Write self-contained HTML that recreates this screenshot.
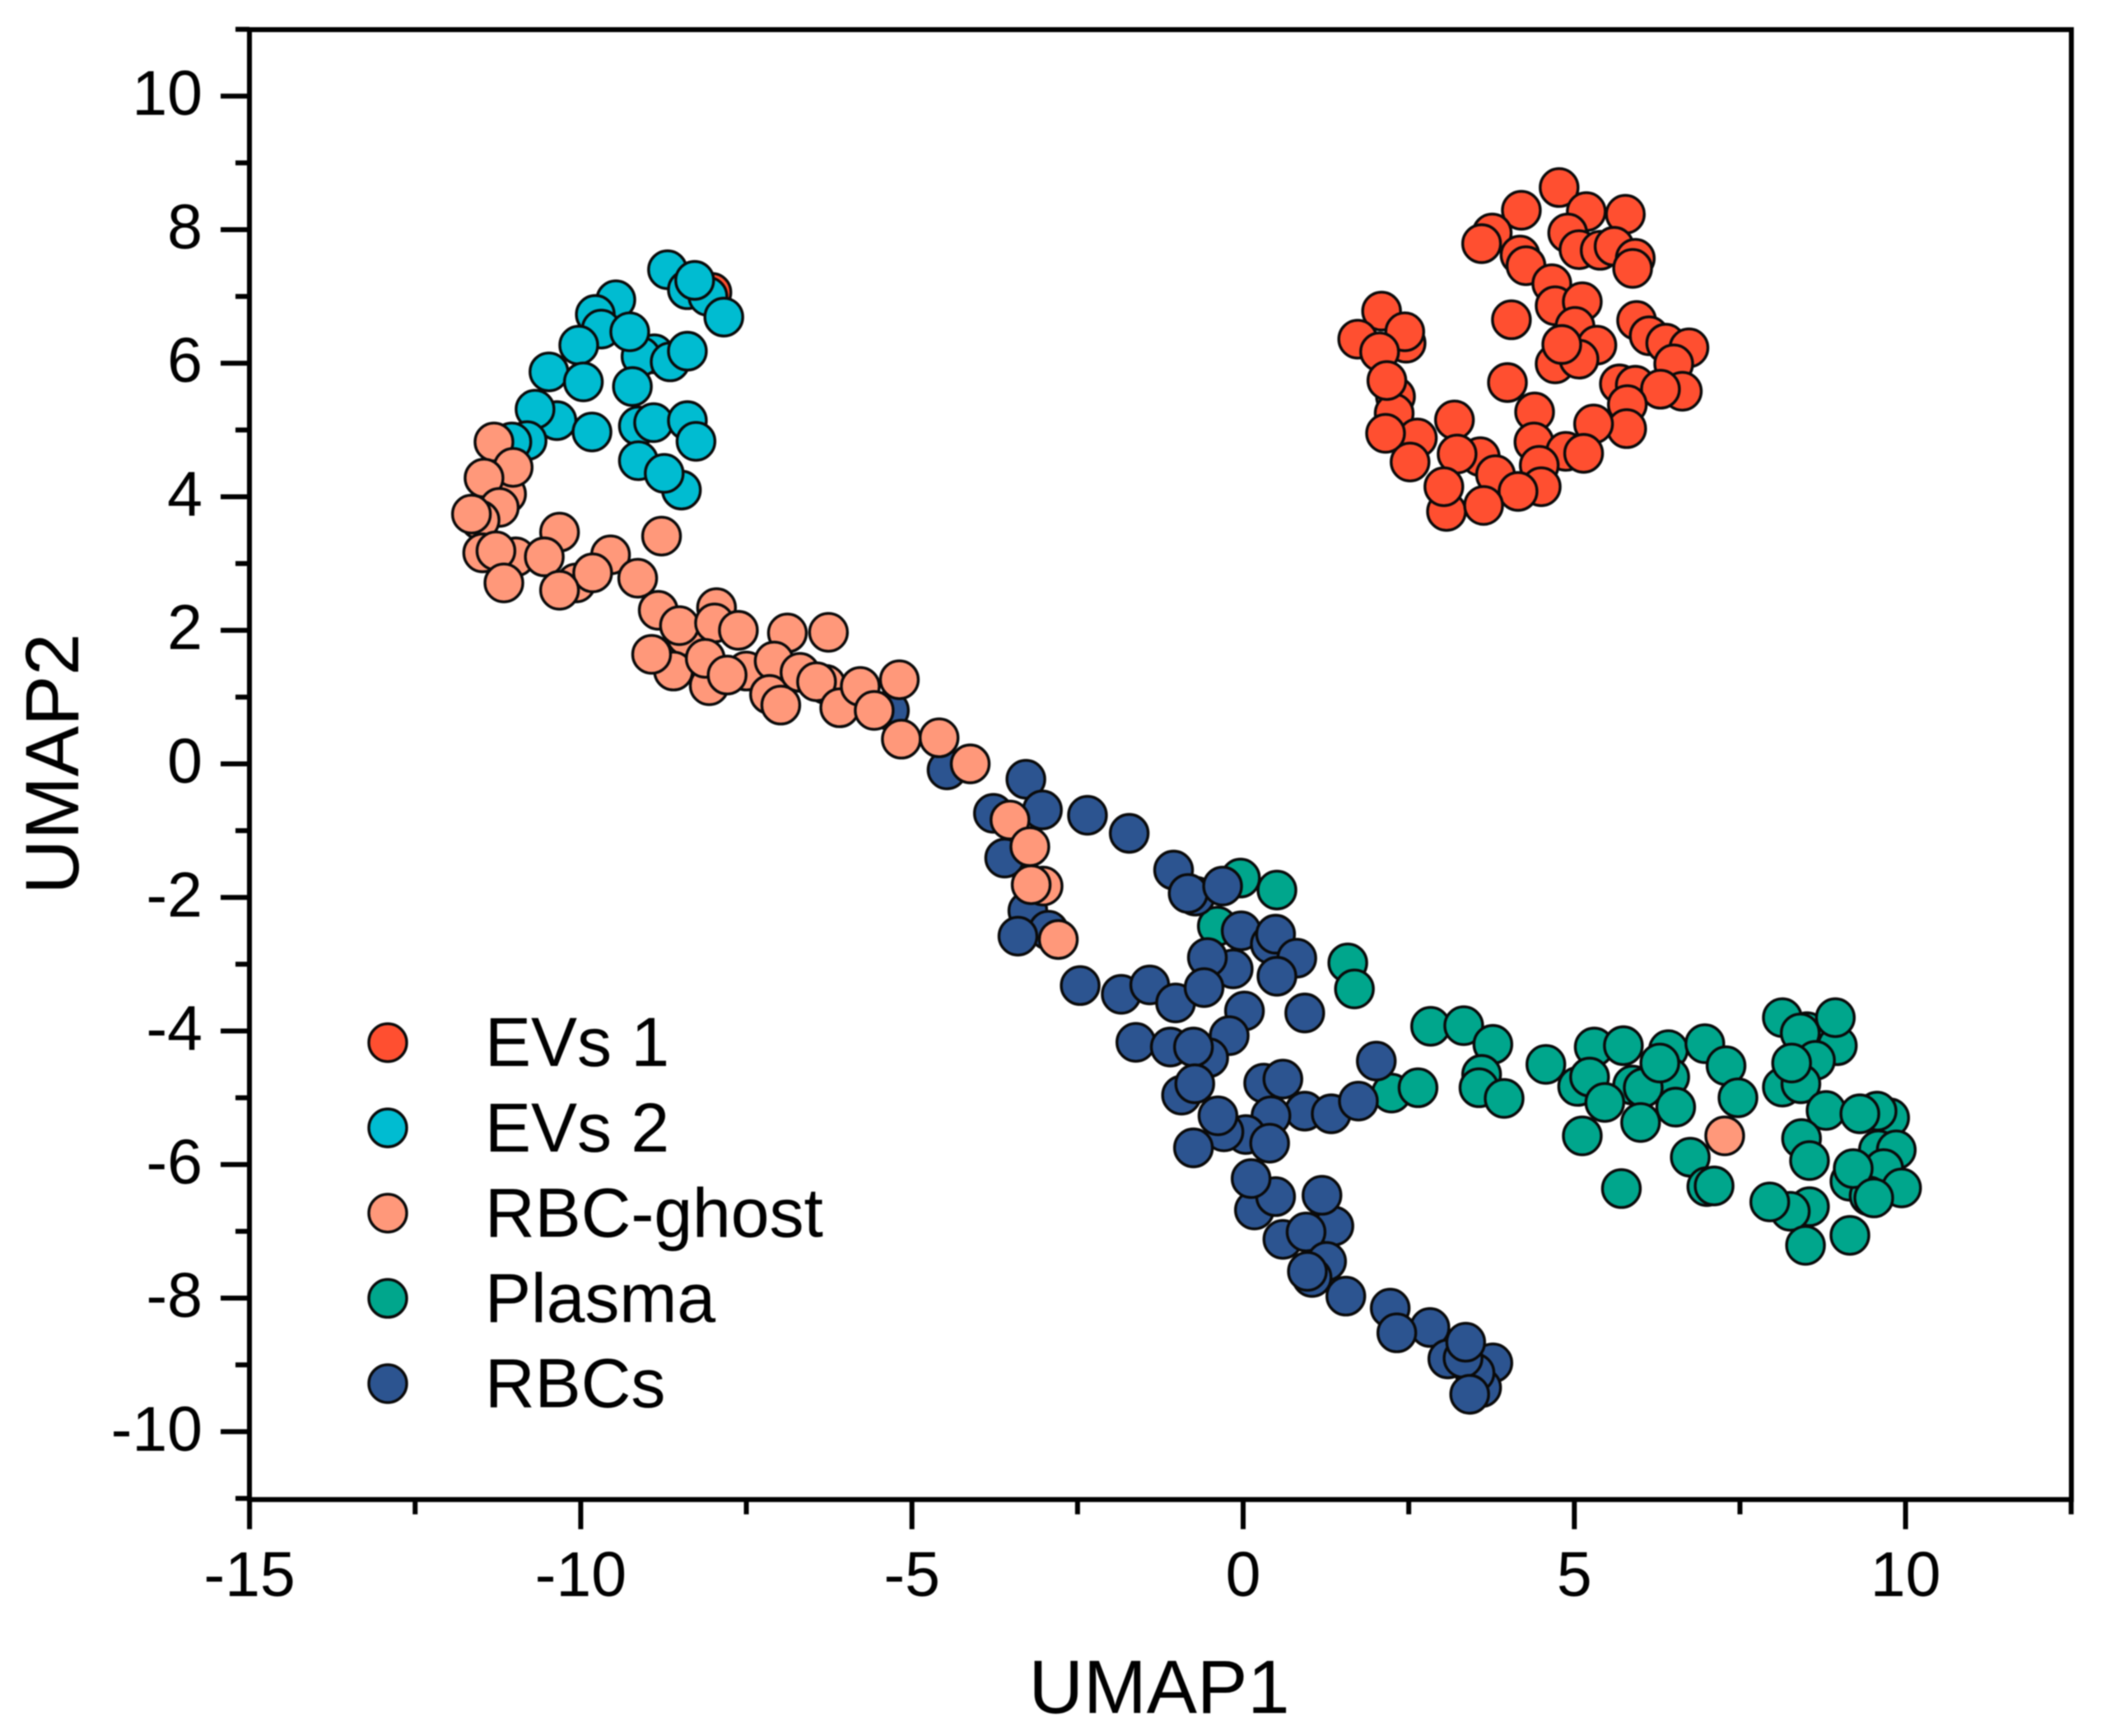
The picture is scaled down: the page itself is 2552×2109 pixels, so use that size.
<!DOCTYPE html>
<html lang="en">
<head>
<meta charset="utf-8">
<title>UMAP scatter plot</title>
<style>
  html, body { margin: 0; padding: 0; background: #fff; }
  #chart { display: block; width: 2552px; height: 2109px; filter: blur(0.7px); }
  text { font-family: "Liberation Sans", Arial, sans-serif; fill: #000; }
</style>
</head>
<body>
<svg id="chart" xmlns="http://www.w3.org/2000/svg" width="2552" height="2109" viewBox="0 0 2552 2109">
  <rect x="0" y="0" width="2552" height="2109" fill="#ffffff"/>
  <g id="points"></g>
  <g id="axes"></g>
  <g id="legend"></g>
  <text x="1408" y="2081" font-size="92" text-anchor="middle">UMAP1</text>
  <text transform="translate(95 928) rotate(-90)" font-size="92" text-anchor="middle">UMAP2</text>
</svg>
<script>
const seriesNames = ["EVs 1", "EVs 2", "RBC-ghost", "Plasma", "RBCs"];
const xTickValues = [-15, -10, -5, 0, 5, 10];
const xMinorValues = [-12.5, -7.5, -2.5, 2.5, 7.5, 12.5];
const yTickValues = [10, 8, 6, 4, 2, 0, -2, -4, -6, -8, -10];
const yMinorValues = [11, 9, 7, 5, 3, 1, -1, -3, -5, -7, -9, -11];

const evs1Points = [[-8.02,7.06],[4.77,8.63],[4.20,8.29],[5.18,8.27],[5.77,8.23],[4.90,7.95],[3.76,7.95],[3.60,7.79],[5.07,7.70],[5.39,7.69],[5.60,7.75],[5.92,7.57],[5.88,7.42],[4.18,7.62],[4.27,7.46],[4.66,7.19],[4.71,6.86],[5.12,6.92],[4.05,6.65],[5.94,6.64],[2.09,6.78],[1.73,6.36],[2.46,6.30],[2.44,6.47],[2.06,6.17],[5.01,6.55],[5.34,6.27],[4.71,5.99],[5.07,6.06],[4.81,6.28],[6.13,6.41],[6.38,6.30],[6.73,6.23],[6.50,5.99],[3.99,5.71],[2.30,5.50],[2.28,5.25],[2.17,5.74],[5.68,5.69],[5.92,5.67],[6.63,5.58],[6.30,5.61],[5.80,5.38],[4.40,5.27],[5.79,5.02],[5.29,5.09],[3.19,5.15],[2.63,4.88],[2.15,4.95],[2.52,4.52],[4.39,4.82],[4.87,4.68],[5.14,4.65],[3.58,4.60],[3.23,4.64],[4.47,4.47],[3.81,4.33],[4.50,4.15],[4.15,4.08],[3.07,3.78],[3.03,4.15],[3.63,3.87]];

const evs2Points = [[-8.69,7.40],[-8.39,7.10],[-8.08,7.00],[-8.28,7.24],[-7.84,6.69],[-9.47,6.95],[-9.78,6.73],[-9.69,6.51],[-10.03,6.27],[-8.89,6.14],[-9.09,6.10],[-9.26,6.47],[-8.65,6.02],[-8.39,6.18],[-10.48,5.87],[-9.96,5.72],[-9.22,5.65],[-10.36,5.14],[-10.69,5.31],[-9.83,4.97],[-9.13,5.06],[-8.90,5.11],[-8.39,5.14],[-8.26,4.83],[-10.81,4.84],[-11.04,4.82],[-9.13,4.54],[-8.48,4.10],[-8.74,4.35]];

const plasmaPoints = [[-0.04,-1.71],[0.51,-1.89],[-0.39,-2.43],[1.58,-2.98],[1.68,-3.37],[2.83,-3.93],[3.33,-3.92],[3.77,-4.20],[3.60,-4.65],[3.56,-4.85],[3.94,-5.01],[2.24,-4.93],[2.64,-4.85],[4.57,-4.50],[5.30,-4.24],[5.74,-4.22],[6.42,-4.28],[6.97,-4.19],[5.05,-4.83],[5.23,-4.69],[6.44,-4.69],[5.88,-4.81],[6.04,-4.85],[6.29,-4.48],[5.46,-5.07],[6.53,-5.14],[6.00,-5.37],[5.12,-5.57],[5.71,-6.36],[7.29,-4.52],[7.47,-5.00],[6.75,-5.89],[7.00,-6.33],[7.11,-6.32],[8.14,-3.80],[8.51,-4.01],[8.97,-4.22],[8.94,-3.80],[8.41,-4.03],[8.64,-4.44],[8.14,-4.84],[8.42,-4.79],[8.28,-4.48],[8.80,-5.19],[9.76,-5.30],[9.57,-5.20],[9.31,-5.24],[8.43,-5.61],[8.55,-5.94],[9.59,-5.78],[9.86,-5.78],[9.67,-6.06],[9.94,-6.35],[9.16,-6.25],[9.45,-6.47],[9.21,-6.06],[9.52,-6.50],[8.55,-6.63],[8.26,-6.70],[7.95,-6.56],[8.49,-7.21],[9.16,-7.06]];

const rbcPoints = [[-5.34,0.80],[-4.47,-0.09],[-3.28,-0.23],[-3.77,-0.74],[-3.03,-0.69],[-2.35,-0.77],[-1.72,-1.04],[-3.60,-1.41],[-1.05,-1.59],[-0.72,-1.98],[-0.83,-1.94],[-0.31,-1.83],[-3.25,-2.20],[-2.94,-2.49],[-3.40,-2.58],[-0.03,-2.50],[0.41,-2.70],[0.49,-2.55],[0.81,-2.91],[-0.15,-3.07],[-0.54,-2.90],[0.51,-3.18],[-2.46,-3.32],[-1.84,-3.45],[-1.41,-3.31],[-1.02,-3.58],[-0.59,-3.35],[0.02,-3.70],[0.93,-3.73],[-0.21,-4.07],[-1.62,-4.17],[-0.52,-4.40],[-1.10,-4.24],[-0.75,-4.24],[-0.93,-4.96],[-0.73,-4.79],[2.01,-4.45],[0.31,-4.78],[0.60,-4.72],[0.93,-5.20],[1.33,-5.24],[1.74,-5.05],[0.42,-5.27],[0.04,-5.55],[-0.29,-5.51],[-0.75,-5.75],[-0.38,-5.27],[0.40,-5.68],[0.17,-6.68],[0.49,-6.48],[0.12,-6.21],[1.37,-6.92],[1.19,-6.46],[0.60,-7.12],[0.95,-7.01],[1.26,-7.45],[1.04,-7.69],[0.97,-7.60],[1.55,-7.97],[2.22,-8.15],[2.82,-8.44],[2.32,-8.52],[3.09,-8.91],[3.77,-8.97],[3.60,-9.34],[3.50,-9.12],[3.32,-8.90],[3.36,-8.66],[3.42,-9.44]];

const ghostPoints = [[-11.31,4.82],[-11.12,4.04],[-11.02,4.44],[-11.46,4.28],[-11.23,3.84],[-11.52,3.65],[-11.65,3.74],[-10.32,3.47],[-8.78,3.41],[-11.48,3.16],[-10.98,3.10],[-11.28,3.19],[-10.55,3.10],[-11.16,2.71],[-9.55,3.13],[-10.07,2.71],[-9.82,2.86],[-10.32,2.60],[-9.14,2.78],[-8.83,2.30],[-7.95,2.34],[-8.41,1.91],[-8.51,2.07],[-7.98,2.11],[-7.62,2.00],[-6.88,1.96],[-6.26,1.97],[-8.60,1.39],[-8.93,1.64],[-8.06,1.17],[-8.12,1.58],[-7.50,1.39],[-7.79,1.33],[-7.08,1.54],[-7.15,1.04],[-6.98,0.88],[-6.69,1.37],[-6.30,1.19],[-6.44,1.23],[-6.09,0.84],[-5.78,1.16],[-5.57,0.80],[-5.19,1.26],[-5.16,0.37],[-4.59,0.39],[-4.12,0.00],[-3.52,-0.84],[-3.22,-1.24],[-3.02,-1.83],[-3.20,-1.81],[-2.79,-2.63],[7.27,-5.57]];

// Scale constants and axis functions
const plotLeft = 303, plotRight = 2516, plotTop = 35, plotBottom = 1821.7;
function xScale(v) { return 1510 + v * 80.46; }
function yScale(v) { return 928 - v * 81.13; }

const SVG_NS = "http://www.w3.org/2000/svg";
const pointsLayer = document.getElementById("points");
const axesLayer = document.getElementById("axes");
const legendLayer = document.getElementById("legend");
const fillFor = { "EVs 1": "#ff4f30", "EVs 2": "#00bcd1", "RBC-ghost": "#ff987a", "Plasma": "#00a68c", "RBCs": "#2c5490" };

function makeCircle(cx, cy, fill) {
  const c = document.createElementNS(SVG_NS, "circle");
  c.setAttribute("cx", cx);
  c.setAttribute("cy", cy);
  c.setAttribute("r", 23);
  c.setAttribute("fill", fill);
  c.setAttribute("stroke", "#0a0a0a");
  c.setAttribute("stroke-width", 3.4);
  return c;
}

function drawSeries(name, slug, points) {
  const g = document.createElementNS(SVG_NS, "g");
  
  
  points.forEach(function (p) {
    const c = makeCircle(xScale(p[0]), yScale(p[1]), fillFor[name]);
    
    
    g.appendChild(c);
  });
  pointsLayer.appendChild(g);
}

drawSeries("EVs 1", "evs-1", evs1Points);
drawSeries("EVs 2", "evs-2", evs2Points);
drawSeries("Plasma", "plasma", plasmaPoints);
drawSeries("RBCs", "rbcs", rbcPoints);
drawSeries("RBC-ghost", "rbc-ghost", ghostPoints);

function makeLine(x1, y1, x2, y2, w) {
  const l = document.createElementNS(SVG_NS, "line");
  l.setAttribute("x1", x1);
  l.setAttribute("y1", y1);
  l.setAttribute("x2", x2);
  l.setAttribute("y2", y2);
  l.setAttribute("stroke", "#000");
  l.setAttribute("stroke-width", w);
  return l;
}

function makeText(str, x, y, size, anchor) {
  const t = document.createElementNS(SVG_NS, "text");
  t.setAttribute("x", x);
  t.setAttribute("y", y);
  t.setAttribute("font-size", size);
  t.setAttribute("text-anchor", anchor);
  t.textContent = str;
  return t;
}

[
  ["axis-top-spine", plotLeft - 3, plotTop + 1, plotRight + 3, plotTop + 1],
  ["axis-bottom-spine", plotLeft - 3, plotBottom, plotRight + 3, plotBottom],
  ["axis-left-spine", plotLeft, plotTop, plotLeft, plotBottom],
  ["axis-right-spine", plotRight, plotTop, plotRight, plotBottom]
].forEach(function (s) {
  const l = makeLine(s[1], s[2], s[3], s[4], 6);
  
  
  axesLayer.appendChild(l);
});

xTickValues.forEach(function (v) {
  const tick = makeLine(xScale(v), plotBottom, xScale(v), plotBottom + 36, 6);
  
  
  axesLayer.appendChild(tick);
  const label = makeText(String(v), xScale(v), 1939, 77, "middle");
  
  
  axesLayer.appendChild(label);
});

xMinorValues.forEach(function (v) {
  const tick = makeLine(xScale(v), plotBottom, xScale(v), plotBottom + 18, 6);
  
  
  axesLayer.appendChild(tick);
});

yTickValues.forEach(function (v) {
  const tick = makeLine(plotLeft - 35, yScale(v), plotLeft, yScale(v), 6);
  
  
  axesLayer.appendChild(tick);
  const label = makeText(String(v), 246, yScale(v) + 23, 77, "end");
  
  
  axesLayer.appendChild(label);
});

yMinorValues.forEach(function (v) {
  const tick = makeLine(plotLeft - 17, yScale(v), plotLeft, yScale(v), 6);
  
  
  axesLayer.appendChild(tick);
});

seriesNames.forEach(function (name, i) {
  const cy = 1266.7 + i * 103.55;
  const slug = name.toLowerCase().replace(/\s+/g, "-");
  const g = document.createElementNS(SVG_NS, "g");
  
  
  const marker = makeCircle(471, cy, fillFor[name]);
  
  
  g.appendChild(marker);
  const label = makeText(name, 589, cy + 28.5, 84, "start");
  
  
  g.appendChild(label);
  legendLayer.appendChild(g);
});
</script>
</body>
</html>
